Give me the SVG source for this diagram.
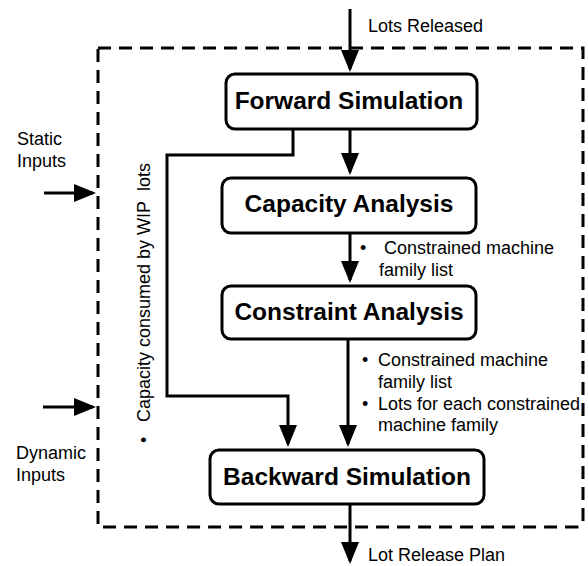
<svg xmlns="http://www.w3.org/2000/svg" width="588" height="566" viewBox="0 0 588 566">
  <style>
    .box { fill: #fff; stroke: #000; stroke-width: 3; }
    .title { font-family: "Liberation Sans", Arial, sans-serif; font-weight: bold; font-size: 24.5px; text-anchor: middle; fill: #000; }
    .lbl { font-family: "Liberation Sans", Arial, sans-serif; font-size: 18px; fill: #000; }
    .wire { fill: none; stroke: #000; stroke-width: 3; }
    .frame { fill: none; stroke: #000; stroke-width: 3; stroke-dasharray: 13 8; }
  </style>
  <defs>
    <marker id="arrow" viewBox="0 0 22 18" markerWidth="22" markerHeight="18" refX="19" refY="9" orient="auto" markerUnits="userSpaceOnUse">
      <path d="M0,0 L22,9 L0,18 Z" fill="#000"/>
    </marker>
  </defs>

  <rect width="588" height="566" fill="#fff"/>

  <!-- system boundary -->
  <path class="frame" d="M98,48 H583 V520 Q583,527 576,527 H98 Z"/>

  <!-- nodes -->
  <g id="forward-simulation">
    <rect class="box" x="226" y="74" width="251" height="55" rx="9"/>
    <text class="title" x="349" y="109">Forward Simulation</text>
  </g>
  <g id="capacity-analysis">
    <rect class="box" x="222" y="178" width="254" height="55" rx="9"/>
    <text class="title" x="349" y="212">Capacity Analysis</text>
  </g>
  <g id="constraint-analysis">
    <rect class="box" x="222" y="286" width="254" height="53" rx="9"/>
    <text class="title" x="349" y="320">Constraint Analysis</text>
  </g>
  <g id="backward-simulation">
    <rect class="box" x="210" y="450" width="274" height="54" rx="9"/>
    <text class="title" x="347" y="485">Backward Simulation</text>
  </g>

  <!-- connectors -->
  <g id="connectors">
    <line class="wire" x1="350" y1="9" x2="350" y2="69" marker-end="url(#arrow)"/>
    <line class="wire" x1="350" y1="130" x2="350" y2="172" marker-end="url(#arrow)"/>
    <line class="wire" x1="350" y1="234" x2="350" y2="280" marker-end="url(#arrow)"/>
    <line class="wire" x1="348" y1="340" x2="348" y2="444" marker-end="url(#arrow)"/>
    <path class="wire" d="M293,130 V155 H167 V396 H288 V444" marker-end="url(#arrow)"/>
    <line class="wire" x1="350" y1="505" x2="350" y2="561" marker-end="url(#arrow)"/>
    <line class="wire" x1="44" y1="193" x2="93" y2="193" marker-end="url(#arrow)"/>
    <line class="wire" x1="43" y1="407" x2="93" y2="407" marker-end="url(#arrow)"/>
  </g>

  <!-- labels -->
  <g id="labels">
    <text class="lbl" x="368" y="32">Lots Released</text>
    <text class="lbl" x="368" y="561">Lot Release Plan</text>

    <text class="lbl" x="17" y="145">Static</text>
    <text class="lbl" x="17" y="167">Inputs</text>
    <text class="lbl" x="16" y="459">Dynamic</text>
    <text class="lbl" x="16" y="481">Inputs</text>

    <g transform="translate(150,443) rotate(-90)">
      <text class="lbl" x="0" y="0">•</text>
      <text class="lbl" x="21" y="0">Capacity consumed by WIP&#160; lots</text>
    </g>

    <text class="lbl" x="360" y="254">•</text>
    <text class="lbl" x="384" y="254">Constrained machine</text>
    <text class="lbl" x="379" y="276">family list</text>

    <text class="lbl" x="362" y="366">•</text>
    <text class="lbl" x="378" y="366">Constrained machine</text>
    <text class="lbl" x="378" y="388">family list</text>
    <text class="lbl" x="362" y="410">•</text>
    <text class="lbl" x="378" y="410">Lots for each constrained</text>
    <text class="lbl" x="378" y="431">machine family</text>
  </g>
</svg>
